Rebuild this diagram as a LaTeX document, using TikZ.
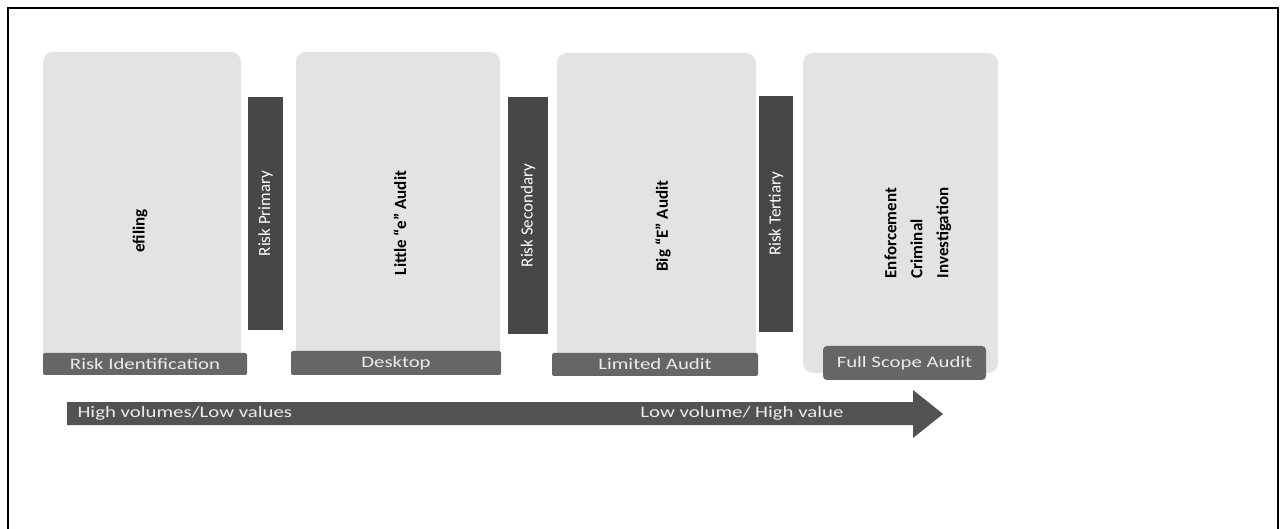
\documentclass[tikz,border=0pt]{standalone}
\usepackage{fontspec}
\setmainfont{Carlito}
\newfontfamily\widefont[FakeStretch=1.3]{Carlito}

\begin{document}
\begin{tikzpicture}[x=1pt, y=-1pt,
    stage/.style={fill=black!11, rounded corners=10pt, inner sep=0pt},
    riskbar/.style={fill=black!72, text=white, rotate=90, inner sep=0pt, font=\fontsize{17}{20}\selectfont},
    tag/.style={fill=black!60, text=black!8, rounded corners=2pt, inner sep=0pt, font=\widefont\fontsize{16}{19}\selectfont},
    stagetext/.style={rotate=90, align=left, font=\bfseries\fontsize{17}{26}\selectfont},
    flowtext/.style={text=black!8, font=\widefont\fontsize{16}{19}\selectfont}]

    \useasboundingbox (0,0) rectangle (1283,529);
    \draw[line width=2pt] (8,8) rectangle (1278,560);

    \node[stage, minimum width=198, minimum height=312] (efiling) at (142,208) {};
    \node[stage, minimum width=204, minimum height=312] (desktop) at (398,208) {};
    \node[stage, minimum width=199, minimum height=312] (limited) at (656.5,209) {};
    \node[stage, minimum width=195, minimum height=320] (fullscope) at (900.5,213) {};

    \node[riskbar, minimum width=233, minimum height=35] (primary) at (265.5,213.5) {Risk Primary};
    \node[riskbar, minimum width=237, minimum height=40] (secondary) at (528,215.5) {Risk Secondary};
    \node[riskbar, minimum width=236, minimum height=34] (tertiary) at (776,214) {Risk Tertiary};

    \node[tag, minimum width=204, minimum height=22] (riskid) at (145,364) {Risk Identification};
    \node[tag, minimum width=210, minimum height=24] (desktoptag) at (396,363) {Desktop};
    \node[tag, minimum width=206, minimum height=23] (limitedtag) at (655,364.5) {Limited Audit};
    \node[tag, minimum width=163, minimum height=34, rounded corners=4pt] (fulltag) at (904.5,363) {Full Scope Audit};

    \node[stagetext] (efilingtext) at (140,231) {efiling};
    \node[stagetext] (littletext) at (400,223) {Little “e” Audit};
    \node[stagetext] (bigtext) at (663,226) {Big “E” Audit};
    \node[stagetext] (enforcetext) at (918,233) {Enforcement\\Criminal\\Investigation};

    \fill[black!68] (67,402) -- (913,402) -- (913,390) -- (943,414) -- (913,438) -- (913,425) -- (67,425) -- cycle;
    \node[flowtext, anchor=west] (highvol) at (74,413.5) {High volumes/Low values};
    \node[flowtext] (lowvol) at (742,413.5) {Low volume/ High value};

\end{tikzpicture}
\end{document}
